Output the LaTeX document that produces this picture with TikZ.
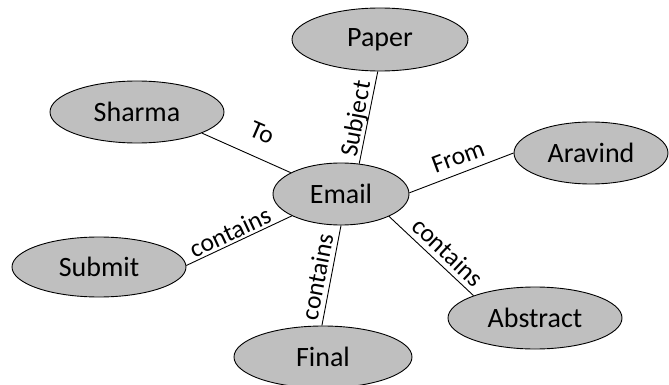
\documentclass[tikz,border=0pt]{standalone}
\usepackage{fontspec}
\setmainfont{Carlito}
\usetikzlibrary{shapes.geometric}
\definecolor{nodegray}{RGB}{191,191,191}
\begin{document}
\begin{tikzpicture}[x=1pt,y=-1pt,
  concept/.style={ellipse, draw=black, line width=0.9pt, fill=nodegray, inner sep=0pt, font=\fontsize{28}{30}\selectfont},
  rel/.style={font=\fontsize{25.5}{27}\selectfont, inner sep=0pt},
  link/.style={draw=black, line width=0.9pt}]
\useasboundingbox (0,0) rectangle (669,385);
\node[concept, minimum width=174pt, minimum height=62pt] (sharma) at (137,112) {Sharma};
\node[concept, minimum width=176pt, minimum height=63pt] (paper) at (380,39.5) {Paper};
\node[concept, minimum width=154pt, minimum height=62pt] (aravind) at (591,153) {Aravind};
\node[concept, minimum width=136pt, minimum height=62pt] (email) at (341,194) {Email};
\node[concept, minimum width=174pt, minimum height=60pt] (submit) at (99,267) {Submit};
\node[concept, minimum width=178pt, minimum height=62pt] (final) at (323,357) {Final};
\node[concept, minimum width=174pt, minimum height=62pt] (abstract) at (535,318) {Abstract};
\draw[link] (sharma.-18) -- (email.157);
\draw[link] (paper.-94) -- (email.59);
\draw[link] (email.1) -- (aravind.180);
\draw[link] (email.204) -- (submit.1);
\draw[link] (email.-90) -- (final.92);
\draw[link] (email.-25) -- (abstract.160);
\node[rel, rotate=-23.4] (lto) at (262,133) {To};
\node[rel, rotate=79.5] (lsubj) at (357,119) {Subject};
\node[rel, rotate=20.4] (lfrom) at (458,157) {From};
\node[rel, rotate=25] (lc1) at (230,232) {contains};
\node[rel, rotate=79.2] (lc2) at (317,277) {contains};
\node[rel, rotate=-43.6] (lc3) at (448,252) {contains};
\end{tikzpicture}
\end{document}
